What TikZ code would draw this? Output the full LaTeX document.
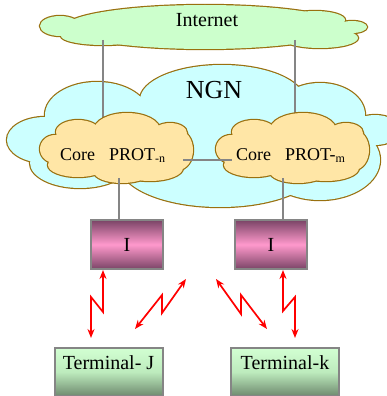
\documentclass[tikz,border=0pt]{standalone}
\usepackage{fontspec}
\setmainfont{Liberation Serif}
\usetikzlibrary{arrows.meta}
\definecolor{inetfill}{HTML}{CCFFCC}
\definecolor{ngnfill}{HTML}{CCFFFF}
\definecolor{corefill}{HTML}{FFE6A6}
\definecolor{cloudline}{HTML}{99700F}
\definecolor{linegray}{HTML}{858585}
\definecolor{idark}{HTML}{7A4466}
\definecolor{ilight}{HTML}{FF99CC}
\definecolor{tlight}{HTML}{D2FFD2}
\definecolor{tmid}{HTML}{BDEBBD}
\definecolor{tdark}{HTML}{6E8A6E}
\newcommand{\cloudshape}[3]{%
  \foreach \cx/\cy/\rx/\ry in #3 {\draw[cloudline, line width=2.4pt] (\cx+#2,\cy) ellipse [x radius=\rx pt, y radius=\ry pt];}
  \foreach \cx/\cy/\rx/\ry in #3 {\fill[#1] (\cx+#2,\cy) ellipse [x radius=\rx pt, y radius=\ry pt];}
}
\newcommand{\corelist}{117/150/65/25, 78/132/22/12, 127/130/33/17, 170/133/17/10, 178/150/15/20, 150/168/33/13, 122/172/28/11, 78/165/30/12, 55/149/15/14}
\newcommand{\inetlist}{205/27/140/22, 60/26/20/10, 103/36/42/9, 315/20/30/9, 352/27/15/6, 320/38/38/10}
\newcommand{\ngnlist}{222/100/82/35, 97/115/52/33, 320/115/45/32, 375/130/25/15, 45/140/38/23, 80/163/50/25, 220/165/100/42, 320/160/60/40, 200/140/150/40}
\begin{document}
\begin{tikzpicture}[x=1pt,y=-1pt,
  gline/.style={draw=linegray, line width=2pt},
  zig/.style={draw=red, line width=1.7pt, {Stealth[length=9pt,width=7pt]}-{Stealth[length=9pt,width=7pt]}},
  ibox/.style={draw=linegray, line width=2pt, minimum width=72pt, minimum height=49pt, top color=idark, bottom color=idark, middle color=ilight, font=\fontsize{20}{24}\selectfont, inner sep=0pt},
  tbox/.style={draw=linegray, line width=2pt, minimum width=108pt, inner xsep=0pt, inner ysep=0pt, text height=21pt, text depth=27pt, top color=tlight, bottom color=tdark, middle color=tmid, font=\fontsize{20}{24}\selectfont, anchor=north},
  coretxt/.style={font=\fontsize{18}{20}\selectfont, anchor=base west, inner sep=0pt}
]
\useasboundingbox (0,0) rectangle (387,396);

% Internet cloud
\cloudshape{inetfill}{0}{\inetlist}
\node[font=\fontsize{20}{24}\selectfont, anchor=base, inner sep=0pt] (inet) at (207,27) {Internet};

% NGN cloud
\cloudshape{ngnfill}{0}{\ngnlist}
\node[font=\fontsize{26}{30}\selectfont, anchor=base, inner sep=0pt] (ngn) at (214,98) {NGN};

% lines internet - cores
\coordinate (inetL) at (103,40);
\coordinate (inetR) at (295,40);
\coordinate (coreLtop) at (103,122);
\coordinate (coreRtop) at (295,122);
\draw[gline] (inetL) -- (coreLtop);
\draw[gline] (inetR) -- (coreRtop);

% core clouds
\cloudshape{corefill}{0}{\corelist}
\cloudshape{corefill}{176}{\corelist}
\node[coretxt] (coreL) at (60,160) {Core\hspace{14pt}PROT\raisebox{-2.5pt}{\fontsize{12}{12}\selectfont -n}};
\node[coretxt] (coreR) at (236,160) {Core\hspace{14pt}PROT-\raisebox{-2.5pt}{\fontsize{12}{12}\selectfont m}};

% core - core line
\coordinate (ccL) at (183,160);
\coordinate (ccR) at (232,160);
\draw[gline] (ccL) -- (ccR);

% I boxes
\node[ibox] (IL) at (127,244.5) {I};
\node[ibox] (IR) at (271,244.5) {I};
\coordinate (coreLbot) at (119,178);
\coordinate (coreRbot) at (283,178);
\draw[gline] (coreLbot) -- (coreLbot |- IL.north);
\draw[gline] (coreRbot) -- (coreRbot |- IR.north);

% terminals
\node[tbox] (TJ) at (108.5,347) {Terminal- J};
\node[tbox] (TK) at (285,347) {Terminal-k};

% lightning arrows
\coordinate (a1s) at (103,270);
\coordinate (a1b) at (103,312);
\coordinate (a1c) at (91,297);
\coordinate (a1e) at (91,338);
\draw[zig] (a1s) -- (a1b) -- (a1c) -- (a1e);
\coordinate (a2s) at (135,329);
\coordinate (a2b) at (162,295);
\coordinate (a2c) at (162,313);
\coordinate (a2e) at (186,279);
\draw[zig] (a2s) -- (a2b) -- (a2c) -- (a2e);
\coordinate (a3s) at (216,279);
\coordinate (a3b) at (241,314);
\coordinate (a3c) at (241,295);
\coordinate (a3e) at (267,329);
\draw[zig] (a3s) -- (a3b) -- (a3c) -- (a3e);
\coordinate (a4s) at (283,270);
\coordinate (a4b) at (283,311);
\coordinate (a4c) at (295,297);
\coordinate (a4e) at (295,338);
\draw[zig] (a4s) -- (a4b) -- (a4c) -- (a4e);
\end{tikzpicture}
\end{document}
